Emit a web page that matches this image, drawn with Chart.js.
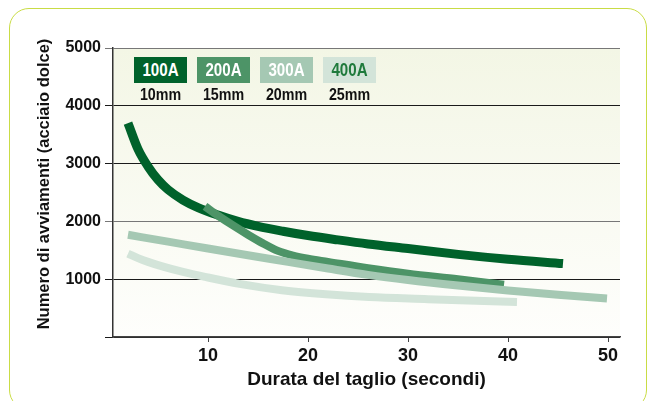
<!DOCTYPE html>
<html lang="it">
<head>
  <meta charset="UTF-8" />
  <title>Numero di avviamenti – Durata del taglio</title>
  <script src="https://cdn.jsdelivr.net/npm/chart.js"></script>
  <style>
    body {
      margin: 0;
      background: #fff;
    }
    .wrap {
      position: relative;
      width: 649px;
      height: 401px;
      overflow: hidden;
    }
    .frame {
      position: absolute;
      left: 9px;
      top: 8px;
      width: 636px;
      height: 400px;
      border: 1.6px solid #c9dc45;
      border-radius: 20px;
      pointer-events: none;
    }
    canvas {
      position: absolute;
      left: 0;
      top: 0;
    }
    .legend {
      position: absolute;
      top: 57px;
      left: 134px;
      display: flex;
      gap: 10px;
      font-family: "Liberation Sans", Arial, sans-serif;
      font-weight: bold;
    }
    .item {
      width: 53px;
      text-align: center;
    }
    .item span {
      display: inline-block;
      transform: scaleX(0.84);
    }
    .box {
      height: 26px;
      line-height: 26px;
      font-size: 18px;
      color: #fff;
    }
    .sub {
      font-size: 17px;
      line-height: 20px;
      margin-top: 2px;
      color: #111;
    }
    .ytitle {
      position: absolute;
      left: 43px;
      top: 184px;
      transform: translate(-50%, -50%) rotate(-90deg);
      white-space: nowrap;
      font-family: "Liberation Sans", Arial, sans-serif;
      font-weight: bold;
      font-size: 16.5px;
      color: #111;
    }
  </style>
</head>
<body>
  <div class="wrap">
    <canvas id="chart" width="649" height="401"></canvas>
    <div class="legend" id="legend"></div>
    <div class="ytitle">Numero di avviamenti (acciaio dolce)</div>
    <div class="frame"></div>
  </div>

  <script>
    // valori (x = secondi, y = avviamenti)
    const x100 = [2, 3, 4, 5, 6, 7.5, 9, 11, 13, 15, 17.5, 20, 23, 26, 30, 35, 40, 45.5];
    const y100 = [3700, 3250, 2950, 2720, 2550, 2370, 2240, 2110, 2000, 1915, 1830, 1755, 1680, 1610, 1530, 1430, 1345, 1270];

    const x200 = [9.7, 11, 12.5, 14, 15.5, 17, 18.5, 20, 22, 26, 30, 35, 39.6];
    const y200 = [2260, 2100, 1930, 1770, 1620, 1490, 1410, 1355, 1300, 1190, 1095, 1000, 905];

    const x300 = [2, 6, 10, 14, 18, 22, 26, 30, 35, 40, 45, 49.9];
    const y300 = [1768, 1650, 1530, 1415, 1300, 1185, 1075, 985, 890, 805, 730, 666];

    const x400 = [2, 3, 4, 5.6, 7.5, 9.7, 13.3, 17.4, 21.8, 26.1, 32, 36, 40.9];
    const y400 = [1443, 1365, 1300, 1212, 1125, 1040, 915, 810, 738, 690, 655, 632, 605];

    const seriesNames = ['100A', '200A', '300A', '400A'];
    const thickness = ['10mm', '15mm', '20mm', '25mm'];
    const colors = ['#00622b', '#4d9467', '#a5c8b3', '#d3e4d9'];
    const boxText = ['#fff', '#fff', '#fff', '#1f7a3c'];
    const xTicks = [10, 20, 30, 40, 50];

    const regular = '"Liberation Sans", Arial, sans-serif';

    // legenda
    document.getElementById('legend').innerHTML = seriesNames.map((n, i) =>
      `<div class="item"><div class="box" style="background:${colors[i]};color:${boxText[i]}"><span>${n}</span></div><div class="sub"><span>${thickness[i]}</span></div></div>`
    ).join('');

    const toPoints = (xs, ys) => xs.map((x, i) => ({ x, y: ys[i] }));
    const allX = [x100, x200, x300, x400];
    const allY = [y100, y200, y300, y400];

    const plotBg = {
      id: 'plotBg',
      beforeDraw(chart) {
        const { ctx, chartArea: a } = chart;
        const g = ctx.createLinearGradient(0, a.top, 0, a.bottom);
        g.addColorStop(0, '#f3f6e5');
        g.addColorStop(1, '#fefefc');
        ctx.save();
        ctx.fillStyle = g;
        ctx.fillRect(a.left, a.top, a.right - a.left, a.bottom - a.top);
        ctx.restore();
      }
    };

    new Chart(document.getElementById('chart'), {
      type: 'line',
      data: {
        datasets: seriesNames.map((n, i) => ({
          label: n,
          data: toPoints(allX[i], allY[i]),
          borderColor: colors[i],
          borderWidth: i === 0 ? 9 : 8,
          pointRadius: 0,
          fill: false,
          cubicInterpolationMode: 'monotone',
          order: 4 - i
        }))
      },
      options: {
        responsive: false,
        animation: false,
        layout: { padding: { top: 48, right: 29, bottom: 0, left: 10 } },
        plugins: { legend: { display: false }, tooltip: { enabled: false } },
        scales: {
          x: {
            type: 'linear',
            min: 0.5,
            max: 51.2,
            afterBuildTicks: s => { s.ticks = xTicks.map(v => ({ value: v })); },
            afterFit: s => { s.height = 64; },
            grid: { drawOnChartArea: false, tickLength: 5, color: '#444' },
            border: { color: '#444', width: 1.5 },
            ticks: {
              autoSkip: false,
              maxRotation: 0,
              padding: 3,
              color: '#111',
              font: { family: regular, size: 18, weight: 'bold' }
            },
            title: {
              display: true,
              text: 'Durata del taglio (secondi)',
              color: '#111',
              font: { family: regular, size: 19, weight: 'bold' },
              padding: { top: 0, bottom: 10 }
            }
          },
          y: {
            min: 0,
            max: 5000,
            afterFit: s => { s.width = 103; },
            grid: {
              tickLength: 8,
              color: c => (c.tick && (c.tick.value === 5000 || c.tick.value === 2000)) ? '#777' : '#1a1a1a'
            },
            border: { color: '#333', width: 1.5 },
            ticks: {
              stepSize: 1000,
              padding: 4,
              color: '#111',
              font: { family: regular, size: 16, weight: 'bold' },
              callback: v => v === 0 ? '' : v
            }
          }
        }
      },
      plugins: [plotBg]
    });
  </script>
</body>
</html>
